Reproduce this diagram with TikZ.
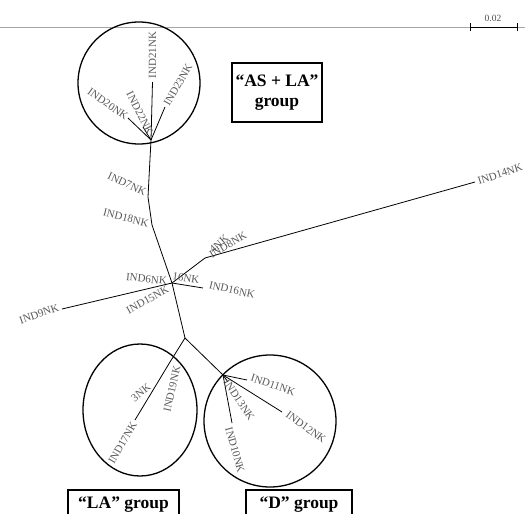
\documentclass[tikz,border=0pt]{standalone}
\usepackage{fontspec}
\setmainfont{Liberation Serif}
\begin{document}
\begin{tikzpicture}[x=1pt,y=-1pt,
  edge/.style={line width=0.8pt,black},
  grp/.style={line width=1.3pt,black},
  leaf/.style={text=black!65,font=\fontsize{11}{12}\selectfont,inner sep=0pt},
  gbox/.style={draw,line width=1.1pt,font=\bfseries\fontsize{17.5}{20}\selectfont,align=center,inner sep=0pt}]
\useasboundingbox (0,0) rectangle (525,514);
% top rule and scale bar
\draw[black!35,line width=0.8pt] (0,27) -- (525,27);
\coordinate (s1) at (470,27);
\coordinate (s2) at (517,27);
\draw[line width=0.9pt] (s1) -- (s2);
\draw[line width=0.9pt] ([yshift=-4]s1) -- ([yshift=4]s1);
\draw[line width=0.9pt] ([yshift=-4]s2) -- ([yshift=4]s2);
\node[text=black!70,font=\fontsize{9.5}{10}\selectfont] (scl) at (493,18) {0.02};
% internal nodes
\coordinate (T) at (151,140);
\coordinate (N7) at (148,197);
\coordinate (N18) at (152,225);
\coordinate (C) at (172,283);
\coordinate (N8) at (205,258);
\coordinate (L) at (185,338);
\coordinate (N19) at (170,362);
\coordinate (D) at (223,375);
% leaf ends
\coordinate (a21) at (152.5,82);
\coordinate (a23) at (165,107);
\coordinate (a20) at (128,118);
\coordinate (a22) at (143,127);
\coordinate (a9) at (62,309);
\coordinate (a16) at (203,288);
\coordinate (a14) at (475,182);
\coordinate (a17) at (135,420);
\coordinate (a11) at (247,380);
\coordinate (a12) at (282,412);
\coordinate (a13) at (228,382);
\coordinate (a10) at (232,423);
% edges
\draw[edge] (T) -- (a21);
\draw[edge] (T) -- (a23);
\draw[edge] (T) -- (a20);
\draw[edge] (T) -- (a22);
\draw[edge] (T) -- (N7) -- (N18) -- (C);
\draw[edge] (C) -- (a9);
\draw[edge] (C) -- (a16);
\draw[edge] (C) -- (N8) -- (a14);
\draw[edge] (C) -- (L);
\draw[edge] (L) -- (N19) -- (a17);
\draw[edge] (L) -- (D);
\draw[edge] (D) -- (a11);
\draw[edge] (D) -- (a12);
\draw[edge] (D) -- (a13);
\draw[edge] (D) -- (a10);
% leaf labels
\node[leaf,rotate=90] (t21) at (152.5,55) {IND21NK};
\node[leaf,rotate=60] (t23) at (178,85) {IND23NK};
\node[leaf,rotate=-35] (t20) at (108,104) {IND20NK};
\node[leaf,rotate=-63] (t22) at (140,113) {IND22NK};
\node[leaf,rotate=-25] (t7) at (127,184) {IND7NK};
\node[leaf,rotate=-14] (t18) at (126,218) {IND18NK};
\node[leaf,rotate=-6] (t6) at (146.5,279) {IND6NK};
\node[leaf,rotate=-8] (t5) at (186,278) {16NK};
\node[leaf,rotate=29] (t15) at (147.5,300) {IND15NK};
\node[leaf,rotate=-13] (t16) at (232,290) {IND16NK};
\node[leaf,rotate=19] (t9) at (39,314) {IND9NK};
\node[leaf,rotate=18] (t14) at (500,174) {IND14NK};
\node[leaf,rotate=30] (t8) at (228,245) {IND8NK};
\node[leaf,rotate=42] (t4) at (219,244) {4NK};
\node[leaf,rotate=77] (t19) at (172,389) {IND19NK};
\node[leaf,rotate=39] (t3) at (141,392.5) {3NK};
\node[leaf,rotate=60] (t17) at (122.5,443) {IND17NK};
\node[leaf,rotate=-19] (t11) at (273,385) {IND11NK};
\node[leaf,rotate=-36] (t12) at (306,427) {IND12NK};
\node[leaf,rotate=-56] (t13) at (239,400) {IND13NK};
\node[leaf,rotate=-74] (t10) at (235,450) {IND10NK};
% group circles
\draw[grp] (139,83) circle (61);
\draw[grp] (140,410) ellipse [x radius=57,y radius=66];
\draw[grp] (270,421) circle (66);
% group boxes
\node[gbox,minimum width=90,minimum height=59] (bAS) at (277,92.5) {“AS + LA”\\group};
\node[gbox,minimum width=111,minimum height=30] (bLA) at (123.5,505) {“LA” group};
\node[gbox,minimum width=106,minimum height=30] (bD) at (299,505) {“D” group};
\end{tikzpicture}
\end{document}
